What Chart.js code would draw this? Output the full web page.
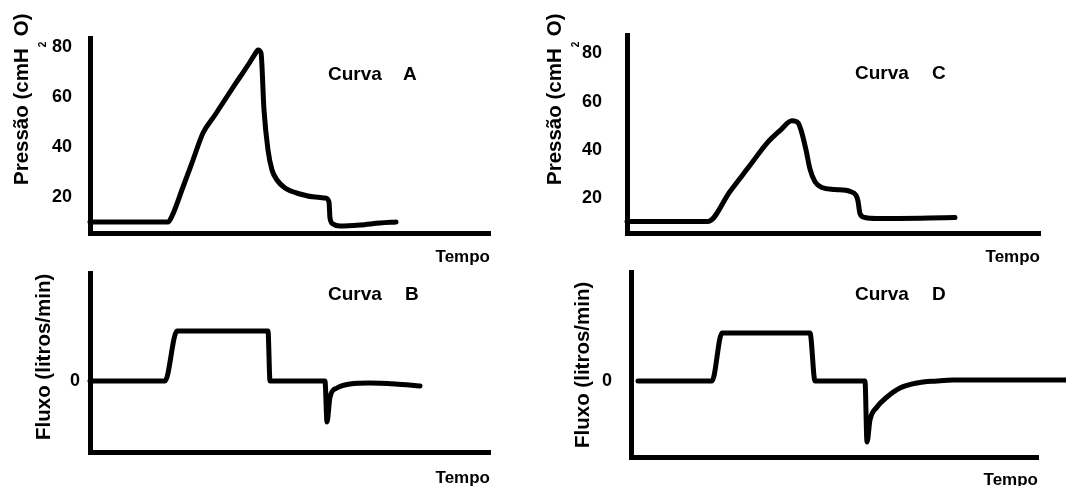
<!DOCTYPE html>
<html>
<head>
<meta charset="utf-8">
<script src="https://cdn.jsdelivr.net/npm/chart.js@4.4.0/dist/chart.umd.min.js"></script>
<style>
  body { margin: 0; background: #fff; }
  #wrap { position: relative; width: 1066px; height: 486px; overflow: hidden; background: #fff; }
  #wrap canvas { position: absolute; left: 0; top: 0; }
</style>
</head>
<body>
<div id="wrap">
  <canvas id="chartA" width="1066" height="520"></canvas>
  <canvas id="chartB" width="1066" height="520"></canvas>
  <canvas id="chartC" width="1066" height="520"></canvas>
  <canvas id="chartD" width="1066" height="520"></canvas>
</div>
<script>
// tick labels
const pressureTicks = [20, 40, 60, 80];
const flowTicks = [0];

// Curva A - pressao (cmH2O) x tempo
const timeA = [0, 1.95, 2.05, 2.325, 2.575, 2.825, 3.125, 3.45, 3.75, 4.0, 4.125, 4.2, 4.275, 4.35, 4.45, 4.55, 4.675, 4.875, 5.25, 5.625, 5.875, 5.975, 6.0, 6.075, 6.25, 6.75, 7.25, 7.65];
const pressureA = [10, 10, 12.4, 24, 34.8, 45.6, 52.8, 60.8, 68, 74, 77.2, 78.8, 77.6, 54.8, 38.8, 30.8, 26.8, 23.6, 21.2, 20, 19.6, 18, 11.6, 9.2, 8.4, 8.8, 9.6, 10];

// Curva B - fluxo x tempo
const timeB = [0, 1.875, 2.175, 4.45, 4.5, 5.875, 5.925, 6.0, 6.175, 6.5, 7.0, 7.625, 8.25];
const flowB = [0, 0, 1, 1, 0, 0, -0.82, -0.32, -0.14, -0.06, -0.04, -0.06, -0.1];

// Curva C - pressao x tempo
const timeC = [0, 2.025, 2.575, 3.075, 3.5, 3.825, 4.125, 4.275, 4.375, 4.475, 4.575, 4.7, 4.875, 5.2, 5.575, 5.725, 5.775, 5.825, 5.95, 6.25, 8.2];
const pressureC = [10.4, 10.4, 22.8, 33.6, 42.8, 48, 52, 51.2, 46.8, 40, 32, 26.8, 24.4, 23.6, 22.8, 21.2, 18.8, 13.6, 12, 11.6, 12];

// Curva D - fluxo x tempo
const timeD = [0.175, 2.025, 2.275, 4.475, 4.6, 5.85, 5.9, 5.975, 6.15, 6.4, 6.725, 7.15, 7.65, 8.05, 10.875];
const flowD = [0, 0, 0.96, 0.96, 0, 0, -1.22, -0.78, -0.52, -0.32, -0.14, -0.04, 0, 0.02, 0.02];

const FONT = '"Liberation Sans", Arial, Helvetica, sans-serif';

// titles of the y axes (the 2 of cmH2O sits as a subscript) and the "Curva X" labels
const pressureTitle = [{ text: 'Pressão (cmH' }, { text: '2', sub: true }, { text: 'O)' }];
const flowTitle = [{ text: 'Fluxo (litros/min)' }];

const panelText = {
  id: 'panelText',
  afterDraw(chart, args, opts) {
    const ctx = chart.ctx;
    ctx.save();
    ctx.fillStyle = '#000';
    ctx.textBaseline = 'middle';
    ctx.textAlign = 'left';
    ctx.font = 'bold 19px ' + FONT;
    ctx.fillText('Curva', opts.curvaX, opts.labelY);
    ctx.fillText(opts.letter, opts.letterX, opts.labelY);

    // rotated y title, read bottom to top
    ctx.translate(opts.titleX, opts.titleY);
    ctx.rotate(-Math.PI / 2);
    ctx.textBaseline = 'alphabetic';
    let pos = 0;
    opts.title.forEach(part => {
      if (part.sub) {
        ctx.font = 'bold 10px ' + FONT;
        ctx.fillText(part.text, pos + 1, 17.5);
        pos += 12;
      } else {
        ctx.font = 'bold 20.5px ' + FONT;
        ctx.fillText(part.text, pos, 0);
        pos += ctx.measureText(part.text).width;
      }
    });
    ctx.restore();
  }
};

function makePanel(id, t, v, cfg) {
  return new Chart(id, {
    type: 'line',
    data: {
      datasets: [{
        data: t.map((x, i) => ({ x: x, y: v[i] })),
        borderColor: '#000',
        borderWidth: 5,
        pointRadius: 0,
        cubicInterpolationMode: 'monotone',
        borderJoinStyle: 'round',
        borderCapStyle: 'round',
        fill: false,
        clip: false
      }]
    },
    options: {
      responsive: false,
      animation: false,
      devicePixelRatio: 1,
      events: [],
      layout: { padding: cfg.pad },
      plugins: {
        legend: { display: false },
        tooltip: { enabled: false },
        panelText: cfg.text
      },
      scales: {
        x: {
          type: 'linear',
          min: 0,
          max: cfg.xMax,
          grid: { display: false, drawTicks: false },
          border: { color: '#000', width: 5 },
          ticks: { display: false },
          title: {
            display: true,
            text: 'Tempo',
            align: 'end',
            color: '#000',
            font: { family: FONT, size: 17, weight: 'bold' },
            padding: { top: 0, bottom: cfg.tempoPad }
          },
          afterFit: s => { s.height = 40; }
        },
        y: {
          min: cfg.yMin,
          max: cfg.yMax,
          grid: { display: false, drawTicks: false },
          border: { color: '#000', width: 5 },
          ticks: {
            color: '#000',
            padding: cfg.tickPad,
            font: { family: FONT, size: 18, weight: 'bold' }
          },
          afterBuildTicks: s => { s.ticks = cfg.ticks.map(val => ({ value: val })); },
          afterFit: s => { s.width = cfg.yWidth; }
        }
      }
    },
    plugins: [panelText]
  });
}

makePanel('chartA', timeA, pressureA, {
  pad: { left: 0, top: 38, right: 576, bottom: 247 },
  xMax: 10, yMin: 5.6, yMax: 83.6, yWidth: 90, tickPad: 18, tempoPad: 5.8,
  ticks: pressureTicks,
  text: { letter: 'A', curvaX: 328, letterX: 403, labelY: 75, title: pressureTitle, titleX: 28, titleY: 185 }
});

makePanel('chartB', timeB, flowB, {
  pad: { left: 0, top: 273, right: 576, bottom: 28 },
  xMax: 10, yMin: -1.42, yMax: 2.16, yWidth: 90, tickPad: 10, tempoPad: 3.8,
  ticks: flowTicks,
  text: { letter: 'B', curvaX: 328, letterX: 405, labelY: 295, title: flowTitle, titleX: 50, titleY: 440 }
});

makePanel('chartC', timeC, pressureC, {
  pad: { left: 533, top: 29, right: 26, bottom: 247 },
  xMax: 10.325, yMin: 5.6, yMax: 87.2, yWidth: 94, tickPad: 25, tempoPad: 5.8,
  ticks: pressureTicks,
  text: { letter: 'C', curvaX: 855, letterX: 932, labelY: 74, title: pressureTitle, titleX: 561, titleY: 185 }
});

makePanel('chartD', timeD, flowD, {
  pad: { left: 533, top: 272, right: 28, bottom: 23 },
  xMax: 10.175, yMin: -1.52, yMax: 2.18, yWidth: 98, tickPad: 19, tempoPad: 6.8,
  ticks: flowTicks,
  text: { letter: 'D', curvaX: 855, letterX: 932, labelY: 295, title: flowTitle, titleX: 589, titleY: 448 }
});
</script>
</body>
</html>
